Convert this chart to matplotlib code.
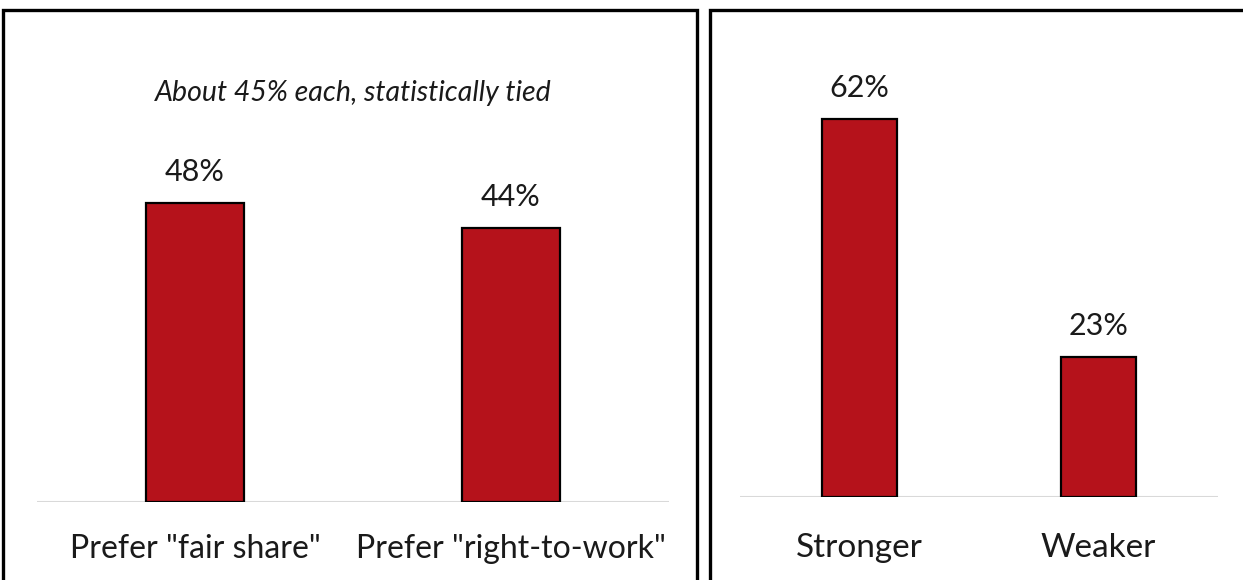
import matplotlib
matplotlib.use("Agg")
import matplotlib.pyplot as plt
from matplotlib.patches import Rectangle

plt.rcParams["font.family"] = ["Lato", "DejaVu Sans"]

# ── Data ───────────────────────────────────────────────────────────────────
left_labels = ['Prefer "fair share"', 'Prefer "right-to-work"']
left_values = [48, 44]
left_note = "About 45% each, statistically tied"

right_labels = ["Stronger", "Weaker"]
right_values = [62, 23]

BAR_COLOR = "#B5121B"
BASE_COLOR = "#D9D9D9"
W, H = 1243, 580


def px(x0, y0, w, h):
    # pixel box (left, top, width, height) -> figure fraction rect
    return [x0 / W, 1 - (y0 + h) / H, w / W, h / H]


def draw_panel(ax, labels, values, ymax, label_size, pad):
    xs = range(len(values))
    ax.bar(xs, values, width=0.31, color=BAR_COLOR, edgecolor="black", linewidth=1.6, zorder=3)
    ax.set_xlim(-0.5, len(values) - 0.5)
    ax.set_ylim(0, ymax)
    ax.axhline(0, color=BASE_COLOR, linewidth=2.2, zorder=2)
    for x, v in zip(xs, values):
        ax.annotate(f"{v}%", (x, v), xytext=(0, 12), textcoords="offset points",
                    ha="center", va="bottom", fontsize=22, color="#1a1a1a")
    ax.set_xticks(list(xs))
    ax.set_xticklabels(labels, fontsize=label_size, color="#1a1a1a")
    ax.tick_params(axis="x", length=0, pad=pad)
    ax.set_yticks([])
    for s in ax.spines.values():
        s.set_visible(False)
    ax.patch.set_alpha(0)


fig = plt.figure(figsize=(W / 100, H / 100), dpi=100)

# panel frames
for x0, y0, x1, y1 in [(3, 10, 697, 600), (710, 10, 1260, 600)]:
    fig.patches.append(Rectangle((x0 / W, 1 - y1 / H), (x1 - x0) / W, (y1 - y0) / H,
                                 transform=fig.transFigure, fill=False,
                                 edgecolor="black", linewidth=2.4, zorder=0))

ax1 = fig.add_axes(px(37, 502 - 80 * 6.23, 632, 80 * 6.23))
draw_panel(ax1, left_labels, left_values, 80, 23, 23)
ax1.text(0.5, 1 - (93 - (502 - 80 * 6.23)) / (80 * 6.23), left_note, transform=ax1.transAxes,
         ha="center", va="center", fontsize=20.5, style="italic", color="#1a1a1a")

ax2 = fig.add_axes(px(740, 497 - 80 * 6.1, 478, 80 * 6.1))
draw_panel(ax2, right_labels, right_values, 80, 24, 26)

fig.savefig("out.png", dpi=100)
